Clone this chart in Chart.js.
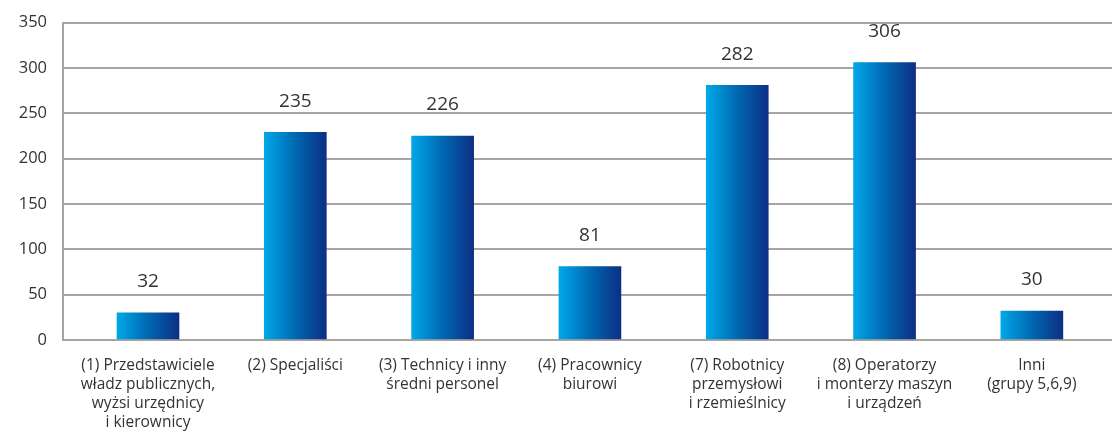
<!DOCTYPE html>
<html>
<head>
<meta charset="utf-8">
<script src="https://cdn.jsdelivr.net/npm/chart.js@4"></script>
<style>
  html, body { margin: 0; padding: 0; background: #fff; }
  canvas { display: block; }
</style>
</head>
<body>
<canvas id="chart" width="1112" height="433"></canvas>
<script>
const categories = [
  ["(1) Przedstawiciele", "władz publicznych,", "wyżsi urzędnicy", "i kierownicy"],
  ["(2) Specjaliści"],
  ["(3) Technicy i inny", "średni personel"],
  ["(4) Pracownicy", "biurowi"],
  ["(7) Robotnicy", "przemysłowi", "i rzemieślnicy"],
  ["(8) Operatorzy", "i monterzy maszyn", "i urządzeń"],
  ["Inni", "(grupy 5,6,9)"],
];
// bar heights as drawn in the picture
const barValues = [30, 229, 225, 81, 281, 306, 32];
// numbers printed above the bars
const printedLabels = ["32", "235", "226", "81", "282", "306", "30"];
const yTicks = [0, 50, 100, 150, 200, 250, 300, 350];

const FONT = "'Open Sans', sans-serif";
const TEXT = "#333333";
const GRID = "#a9a49f";

function barGradient(context) {
  const chart = context.chart;
  const xScale = chart.scales.x;
  if (!xScale || context.dataIndex === undefined) return "#0068b4";
  const cx = xScale.getPixelForValue(context.dataIndex);
  if (!isFinite(cx)) return "#0068b4";
  const g = chart.ctx.createLinearGradient(cx - 31, 0, cx + 31, 0);
  g.addColorStop(0, "#00a8e8");
  g.addColorStop(0.5, "#0068b2");
  g.addColorStop(1, "#0c2f84");
  return g;
}

const valueLabels = {
  id: "valueLabels",
  afterDatasetsDraw(chart) {
    const ctx = chart.ctx;
    const meta = chart.getDatasetMeta(0);
    ctx.save();
    ctx.font = "19px " + FONT;
    ctx.fillStyle = TEXT;
    ctx.textAlign = "center";
    ctx.textBaseline = "middle";
    meta.data.forEach((bar, i) => {
      ctx.fillText(printedLabels[i], bar.x, bar.y - 31);
    });
    ctx.restore();
  },
};

new Chart(document.getElementById("chart"), {
  type: "bar",
  data: {
    datasets: [
      {
        data: barValues.map((v, i) => ({ x: i, y: v })),
        backgroundColor: barGradient,
        barThickness: 62,
        borderWidth: 0,
      },
    ],
  },
  options: {
    responsive: false,
    animation: false,
    layout: { padding: { top: 22.7, right: 0, left: 0, bottom: 0 } },
    plugins: { legend: { display: false }, tooltip: { enabled: false } },
    scales: {
      x: {
        type: "linear",
        offset: false,
        min: -0.577,
        max: 6.544,
        grid: { display: false, offset: false },
        border: { display: false },
        afterFit: (scale) => { scale.height = 93; },
        afterBuildTicks: (scale) => {
          scale.ticks = categories.map((c, i) => ({ value: i }));
        },
        ticks: {
          autoSkip: false,
          maxRotation: 0,
          padding: 8,
          color: TEXT,
          font: { family: FONT, size: 15.5, lineHeight: 1.23 },
          callback: (value) => categories[value] || "",
        },
      },
      y: {
        min: 0,
        max: 350,
        afterFit: (scale) => {
          scale.width = 63;
          scale.paddingTop = 0;
          scale.paddingBottom = 0;
        },
        afterBuildTicks: (scale) => {
          scale.ticks = yTicks.map((v) => ({ value: v }));
        },
        grid: { color: GRID, lineWidth: 2, drawTicks: false },
        border: { display: true, color: GRID, width: 2 },
        ticks: {
          padding: 16,
          color: TEXT,
          font: { family: FONT, size: 16.5 },
        },
      },
    },
  },
  plugins: [valueLabels],
});
</script>
</body>
</html>
